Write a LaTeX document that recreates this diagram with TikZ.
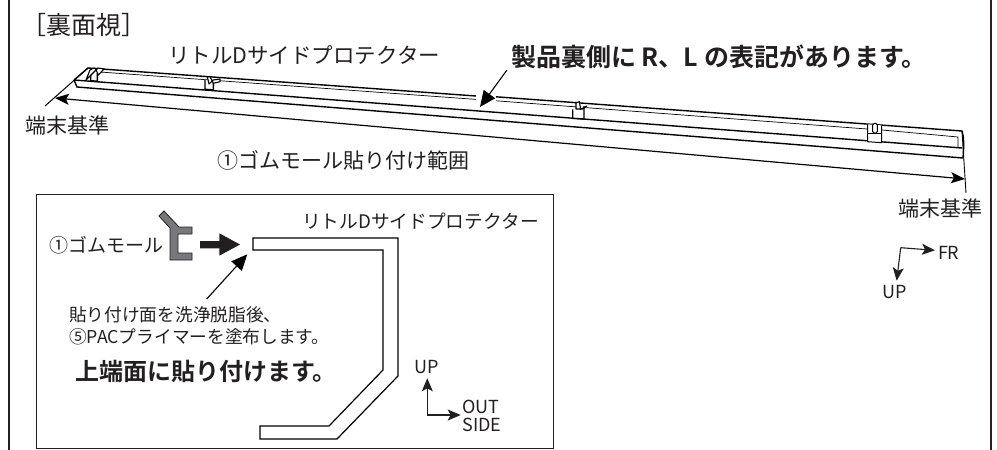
\documentclass[tikz,border=0pt]{standalone}
\usepackage{fontspec}
\setmainfont[BoldFont={Noto Sans CJK JP Bold}]{Noto Sans CJK JP}
\usetikzlibrary{arrows.meta}
\definecolor{ink}{HTML}{231F20}
\definecolor{mold}{HTML}{77787B}
\tikzset{
  lab/.style={inner sep=0pt,text=ink,font=\fontsize{#1}{#1}\selectfont},
  lab/.default=21,
  blab/.style={inner sep=0pt,text=ink,font=\fontsize{#1}{#1}\selectfont\bfseries},
  frameline/.style={line width=2pt,draw=ink},
  part/.style={line width=1.4pt,draw=black,line join=miter},
  fine/.style={line width=0.7pt,draw=black},
  tab/.style={line width=1.1pt,draw=black,fill=white,line join=round},
  lead/.style={line width=1pt,draw=black},
  dim/.style={line width=1.2pt,draw=black,-{Stealth[length=14pt,width=11pt,inset=3pt]}},
  pointer/.style={line width=1.1pt,draw=black,-{Stealth[length=16pt,width=14pt,inset=0pt]}},
  axis/.style={line width=1.1pt,draw=ink,-{Stealth[length=13pt,width=11pt,inset=3pt]}}
}
\begin{document}
\begin{tikzpicture}[x=1pt,y=-1pt]
\useasboundingbox (0,0) rectangle (997,450);
% outer frame
\coordinate (fl0) at (9,0); \coordinate (fl1) at (9,450);
\coordinate (fr0) at (991,0); \coordinate (fr1) at (991,450);
\draw[frameline] (fl0) -- (fl1);
\draw[frameline] (fr0) -- (fr1);
% inner frame
\node[draw=ink,line width=1.2pt,minimum width=517pt,minimum height=254pt,anchor=north west,inner sep=0pt] (inset) at (36,194) {};
% long part
\draw[part] (74,80) -- (88,68) -- (476,96);
\draw[part] (496,96.8) -- (962,131) .. controls (964,137) and (964,145) .. (963,158);
\draw[fine] (100,72) -- (476,99.4);
\draw[fine] (496,100.8) -- (867,129);
\draw[fine] (882,130) -- (958,137) -- (958,148);
\draw[part] (74,80) -- (962,148);
\draw[part] (74,80) -- (77,87) -- (963,158);
% clips
\draw[part,fill=white] (90.7,70) -- (90.7,80.7) -- (97.3,81.2) -- (97.3,73);
\draw[tab] (86,80) -- (90,70) -- (93,68.5) -- (95,68) -- (98.5,75) -- (104,69) -- (98,68) -- cycle;
\draw[part,fill=white] (205,80) -- (205,89.3) -- (213.3,89.9) -- (213.3,81.7);
\draw[tab] (207.3,76.7) -- (210,76.7) -- (213.3,83.3) -- (220,81.7) -- (220,79) -- (213.3,80) -- (209,84) -- cycle;
\draw[part,fill=white] (572.7,109.3) -- (572.7,118.3) -- (584,119) -- (584,106);
\draw[tab] (576,109) -- (576,102.7) -- (579.3,101.7) -- (580.7,109.3) -- (586.7,106) -- (583,109) -- cycle;
\draw[line width=1pt,fill=white] (867.7,124.3) -- (867.7,141.7) -- (881.7,142.7) -- (881.7,125.4);
\draw[line width=.7pt] (867.7,133.3) -- (881.7,133.3);
\draw[line width=1pt,fill=white,rounded corners=1.5pt] (872.7,133) -- (872.7,123.4) -- (877.3,123.4) -- (877.3,133) -- cycle;
% reference leaders
\coordinate (lt) at (88,68); \coordinate (lb) at (45,106);
\coordinate (rt) at (962,131); \coordinate (rb) at (966,193);
\draw[lead] (lt) -- (lb);
\draw[line width=.9pt] (rt) -- (rb);
% dimension
\coordinate (dl) at (55,98); \coordinate (dr) at (965,179); \coordinate (dm) at (510,138.5);
\draw[dim] (dm) -- (dl);
\draw[dim] (dm) -- (dr);
% texts
\node[lab=25,anchor=west] (title) at (21,25) {［裏面視］};
\node[lab=21.5,anchor=west] (name1) at (168,55) {リトルDサイドプロテクター};
\node[blab=25,anchor=west] (note) at (511,57) {製品裏側に R、L の表記があります。};
\node[lab,anchor=west] (endl) at (25,125) {端末基準};
\node[lab,anchor=west] (range) at (217,160) {①ゴムモール貼り付け範囲};
\node[lab,anchor=west] (endr) at (898,208) {端末基準};
% note pointer
\coordinate (np0) at (507,70); \coordinate (np1) at (480,107);
\draw[pointer] (np0) -- (np1);
% FR axes
\coordinate (fc) at (900.7,247.7);
\node[lab=18] (fr) at (948.7,252.5) {FR};
\node[lab=18] (up1) at (894.7,292.5) {UP};
\coordinate (fa) at (935,250.3); \coordinate (fb) at (896.7,280.7);
\draw[axis] (fc) -- (fa);
\draw[axis] (fc) -- (fb);
% inset
\node[lab=19,anchor=west] (mold) at (49,245) {①ゴムモール};
\draw[line width=.8pt,draw=ink,fill=mold] (159,216) -- (164,211) -- (179,227) -- (192,227) -- (192,234) -- (178,234) -- (178,253) -- (192,253) -- (192,260) -- (170,260) -- (170,228) -- cycle;
\fill[ink] (200,241) -- (219.3,241) -- (219.3,233.3) -- (240,244.5) -- (219.3,255.7) -- (219.3,248.3) -- (200,248.3) -- cycle;
\draw[line width=1.2pt,draw=black,line join=miter] (253,238) -- (398,238) -- (398,376) -- (337,439) -- (260,439) -- (260,426) -- (329,426) -- (383,370) -- (383,250) -- (253,250) -- cycle;
\node[lab=18.7,anchor=west] (name2) at (302,221) {リトルDサイドプロテクター};
\coordinate (ip0) at (206.7,299); \coordinate (ip1) at (247.3,254.3);
\draw[pointer] (ip0) -- (ip1);
\node[lab=17.7,anchor=west] (wash) at (69,315) {貼り付け面を洗浄脱脂後、};
\node[lab=17.7,anchor=west] (primer) at (69,337) {⑤PACプライマーを塗布します。};
\node[blab=24,anchor=west] (top) at (75,371) {上端面に貼り付けます。};
\coordinate (ic) at (427.3,415); \coordinate (ia) at (427.3,378.3); \coordinate (ib) at (460.7,415);
\draw[axis] (ic) -- (ia);
\draw[axis] (ic) -- (ib);
\node[lab=18] (up2) at (427,367) {UP};
\node[lab=18] (out) at (481,407) {OUT};
\node[lab=18] (side) at (482,425) {SIDE};
\end{tikzpicture}
\end{document}
